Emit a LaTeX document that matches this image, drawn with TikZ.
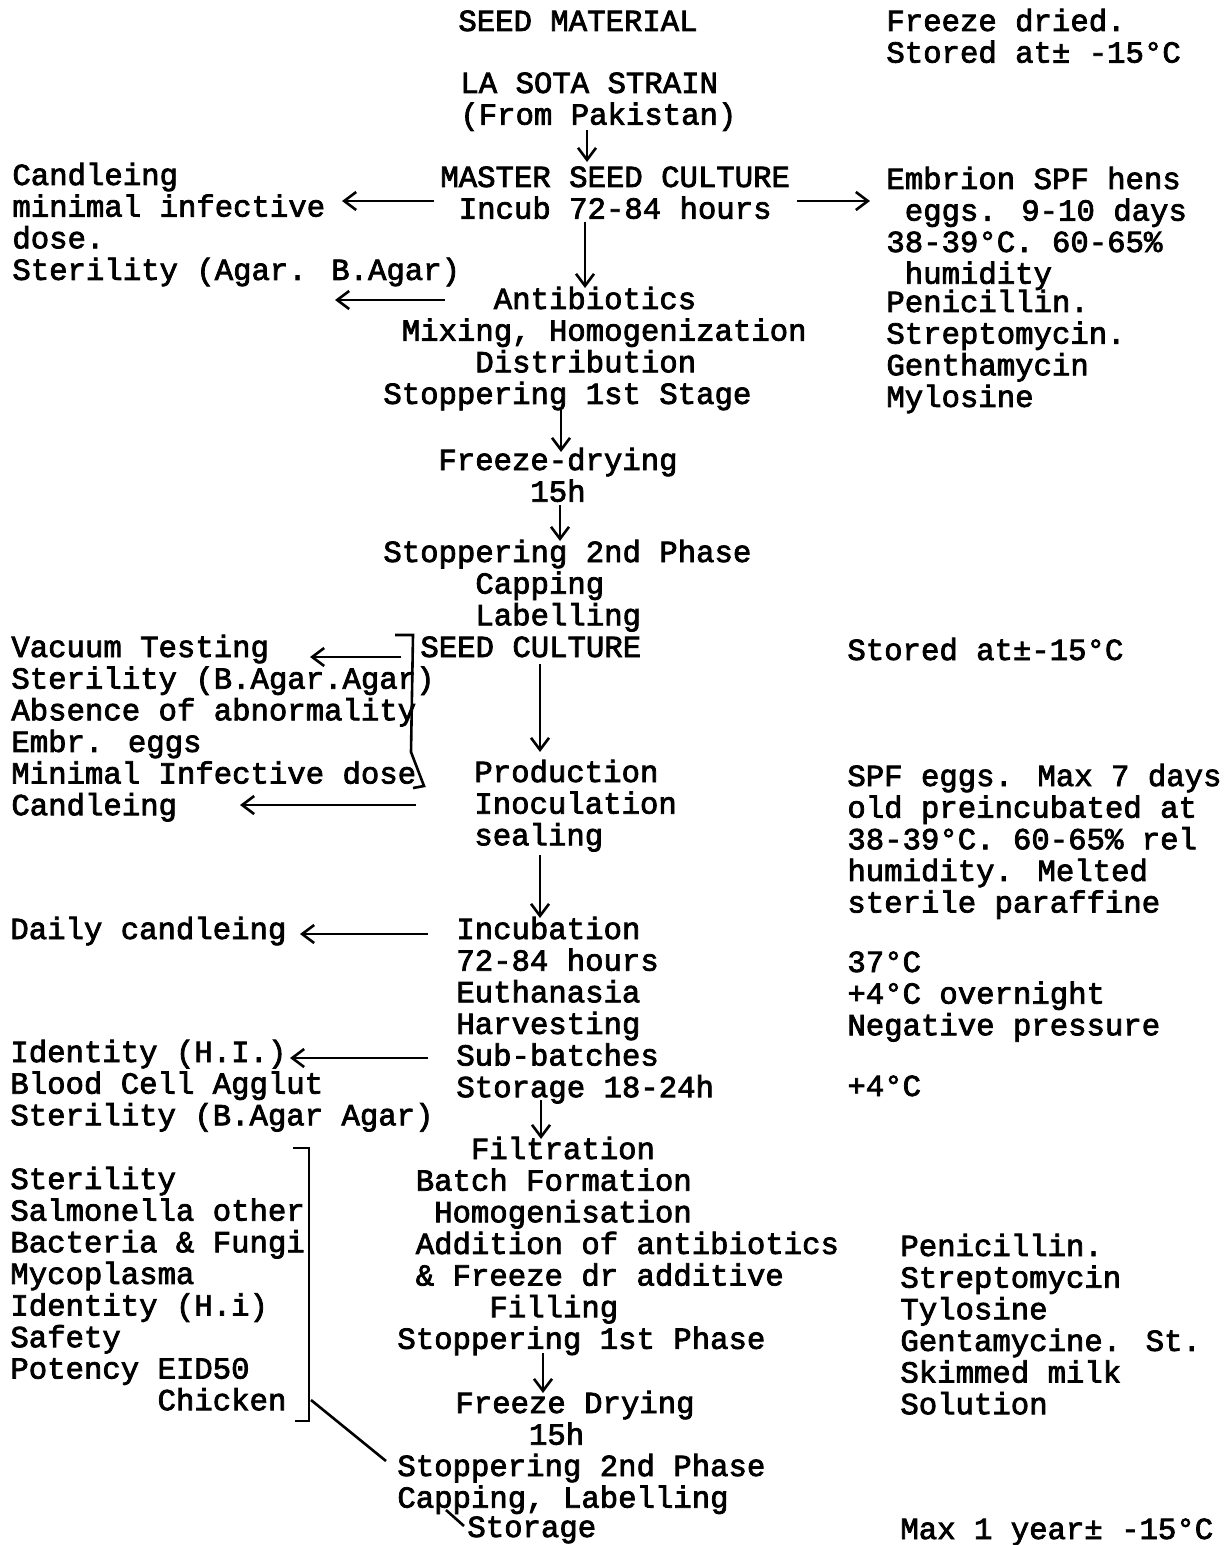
\documentclass[tikz,border=0pt]{standalone}
\usepackage{fontspec}
\setmainfont[FakeBold=2.5]{Liberation Mono}
\usetikzlibrary{arrows.meta}
\newlength\cw
\setlength\cw{9.2pt}
\newcommand\ind[1]{\hspace*{#1\cw}}
\newcommand\blk[1]{\begin{tabular}[t]{@{}l@{}}#1\end{tabular}}
\begin{document}
\begin{tikzpicture}[x=0.5pt,y=-0.5pt,
  txt/.style={anchor=base west,inner sep=0pt,font=\fontsize{15.33pt}{15.7pt}\selectfont},
  arr/.style={-{Straight Barb[length=6pt,width=9pt]},line width=1.3pt},
  brk/.style={line width=1.3pt}]
\useasboundingbox (0,0) rectangle (1226,1545);
% centre column
\node[txt] (seedmat) at (458,31) {SEED MATERIAL};
\node[txt] (lasota) at (460,93) {\blk{LA SOTA STRAIN\\(From Pakistan)}};
\node[txt] (master) at (440,187) {\blk{MASTER SEED CULTURE\\\ind{1}Incub 72-84 hours}};
\node[txt] (antib) at (383,309) {\blk{\ind{6}Antibiotics\\\ind{1}Mixing, Homogenization\\\ind{5}Distribution\\Stoppering 1st Stage}};
\node[txt] (fd1) at (438,470) {\blk{Freeze-drying\\\ind{5}15h}};
\node[txt] (stop2) at (383,562) {\blk{Stoppering 2nd Phase\\\ind{5}Capping\\\ind{5}Labelling}};
\node[txt] (seedcult) at (420,657) {SEED CULTURE};
\node[txt] (prod) at (474,782) {\blk{Production\\Inoculation\\sealing}};
\node[txt] (incub) at (456,939) {\blk{Incubation\\72-84 hours\\Euthanasia\\Harvesting\\Sub-batches\\Storage 18-24h}};
\node[txt] (filt) at (397,1159) {\blk{\ind{4}Filtration\\\ind{1}Batch Formation\\\ind{2}Homogenisation\\\ind{1}Addition of antibiotics\\\ind{1}\& Freeze dr additive\\\ind{5}Filling\\Stoppering 1st Phase}};
\node[txt] (fd2) at (455,1413) {\blk{Freeze Drying\\\ind{4}15h}};
\node[txt] (stop2b) at (397,1476) {\blk{Stoppering 2nd Phase\\Capping, Labelling}};
\node[txt] (storage) at (467,1537) {Storage};
% left column
\node[txt] (qc1) at (12,185) {\blk{Candleing\\minimal infective\\dose.\\Sterility (Agar. B.Agar)}};
\node[txt] (qc2) at (11,657) {\blk{Vacuum Testing\\Sterility (B.Agar.Agar)\\Absence of abnormality\\Embr. eggs\\Minimal Infective dose\\Candleing}};
\node[txt] (qc3) at (10,939) {Daily candleing};
\node[txt] (qc4) at (10,1062) {\blk{Identity (H.I.)\\Blood Cell Agglut\\Sterility (B.Agar Agar)}};
\node[txt] (qc5) at (10,1189) {\blk{Sterility\\Salmonella other\\Bacteria \& Fungi\\Mycoplasma\\Identity (H.i)\\Safety\\Potency EID50\\\ind{8}Chicken}};
% right column
\node[txt] (r1) at (886,31) {\blk{Freeze dried.\\Stored at± -15°C}};
\node[txt] (r2) at (886,189) {\blk{Embrion SPF hens\\\ind{1}eggs. 9-10 days\\38-39°C. 60-65\%\\\ind{1}humidity}};
\node[txt] (r3) at (886,312) {\blk{Penicillin.\\Streptomycin.\\Genthamycin\\Mylosine}};
\node[txt] (r4) at (847,660) {Stored at±-15°C};
\node[txt] (r5) at (847,786) {\blk{SPF eggs. Max 7 days\\old preincubated at\\38-39°C. 60-65\% rel\\humidity. Melted\\sterile paraffine}};
\node[txt] (r6) at (847,972) {\blk{37°C\\+4°C overnight\\Negative pressure}};
\node[txt] (r7) at (847,1096) {+4°C};
\node[txt] (r8) at (900,1256) {\blk{Penicillin.\\Streptomycin\\Tylosine\\Gentamycine. St.\\Skimmed milk\\Solution}};
\node[txt] (r9) at (900,1539) {Max 1 year± -15°C};
% arrow end points
\coordinate (d1s) at (587,130); \coordinate (d1e) at (587,162);
\coordinate (d2s) at (585,222); \coordinate (d2e) at (585,288);
\coordinate (d3s) at (561,410); \coordinate (d3e) at (561,452);
\coordinate (d4s) at (560,505); \coordinate (d4e) at (560,541);
\coordinate (d5s) at (540,664); \coordinate (d5e) at (540,752);
\coordinate (d6s) at (540,855); \coordinate (d6e) at (540,918);
\coordinate (d7s) at (541,1100); \coordinate (d7e) at (541,1139);
\coordinate (d8s) at (543,1353); \coordinate (d8e) at (543,1393);
\coordinate (l1s) at (434,201); \coordinate (l1e) at (342,201);
\coordinate (r1s) at (797,201); \coordinate (r1e) at (870,201);
\coordinate (l2s) at (445,300); \coordinate (l2e) at (335,300);
\coordinate (l3s) at (401,657); \coordinate (l3e) at (310,657);
\coordinate (l4s) at (416,805); \coordinate (l4e) at (240,805);
\coordinate (l5s) at (428,934); \coordinate (l5e) at (300,934);
\coordinate (l6s) at (428,1058); \coordinate (l6e) at (290,1058);
\draw[arr] (d1s) -- (d1e);
\draw[arr] (d2s) -- (d2e);
\draw[arr] (d3s) -- (d3e);
\draw[arr] (d4s) -- (d4e);
\draw[arr] (d5s) -- (d5e);
\draw[arr] (d6s) -- (d6e);
\draw[arr] (d7s) -- (d7e);
\draw[arr] (d8s) -- (d8e);
\draw[arr] (l1s) -- (l1e);
\draw[arr] (r1s) -- (r1e);
\draw[arr] (l2s) -- (l2e);
\draw[arr] (l3s) -- (l3e);
\draw[arr] (l4s) -- (l4e);
\draw[arr] (l5s) -- (l5e);
\draw[arr] (l6s) -- (l6e);
% brackets
\draw[brk] (395,635) -- (413,635) -- (411,752) -- (424,786) -- (413,788);
\draw[brk] (293,1148) -- (309,1148) -- (309,1421) -- (295,1421);
\draw[brk] (311,1400) -- (386,1461);
\draw[brk] (446,1510) -- (464,1526);
\end{tikzpicture}
\end{document}
